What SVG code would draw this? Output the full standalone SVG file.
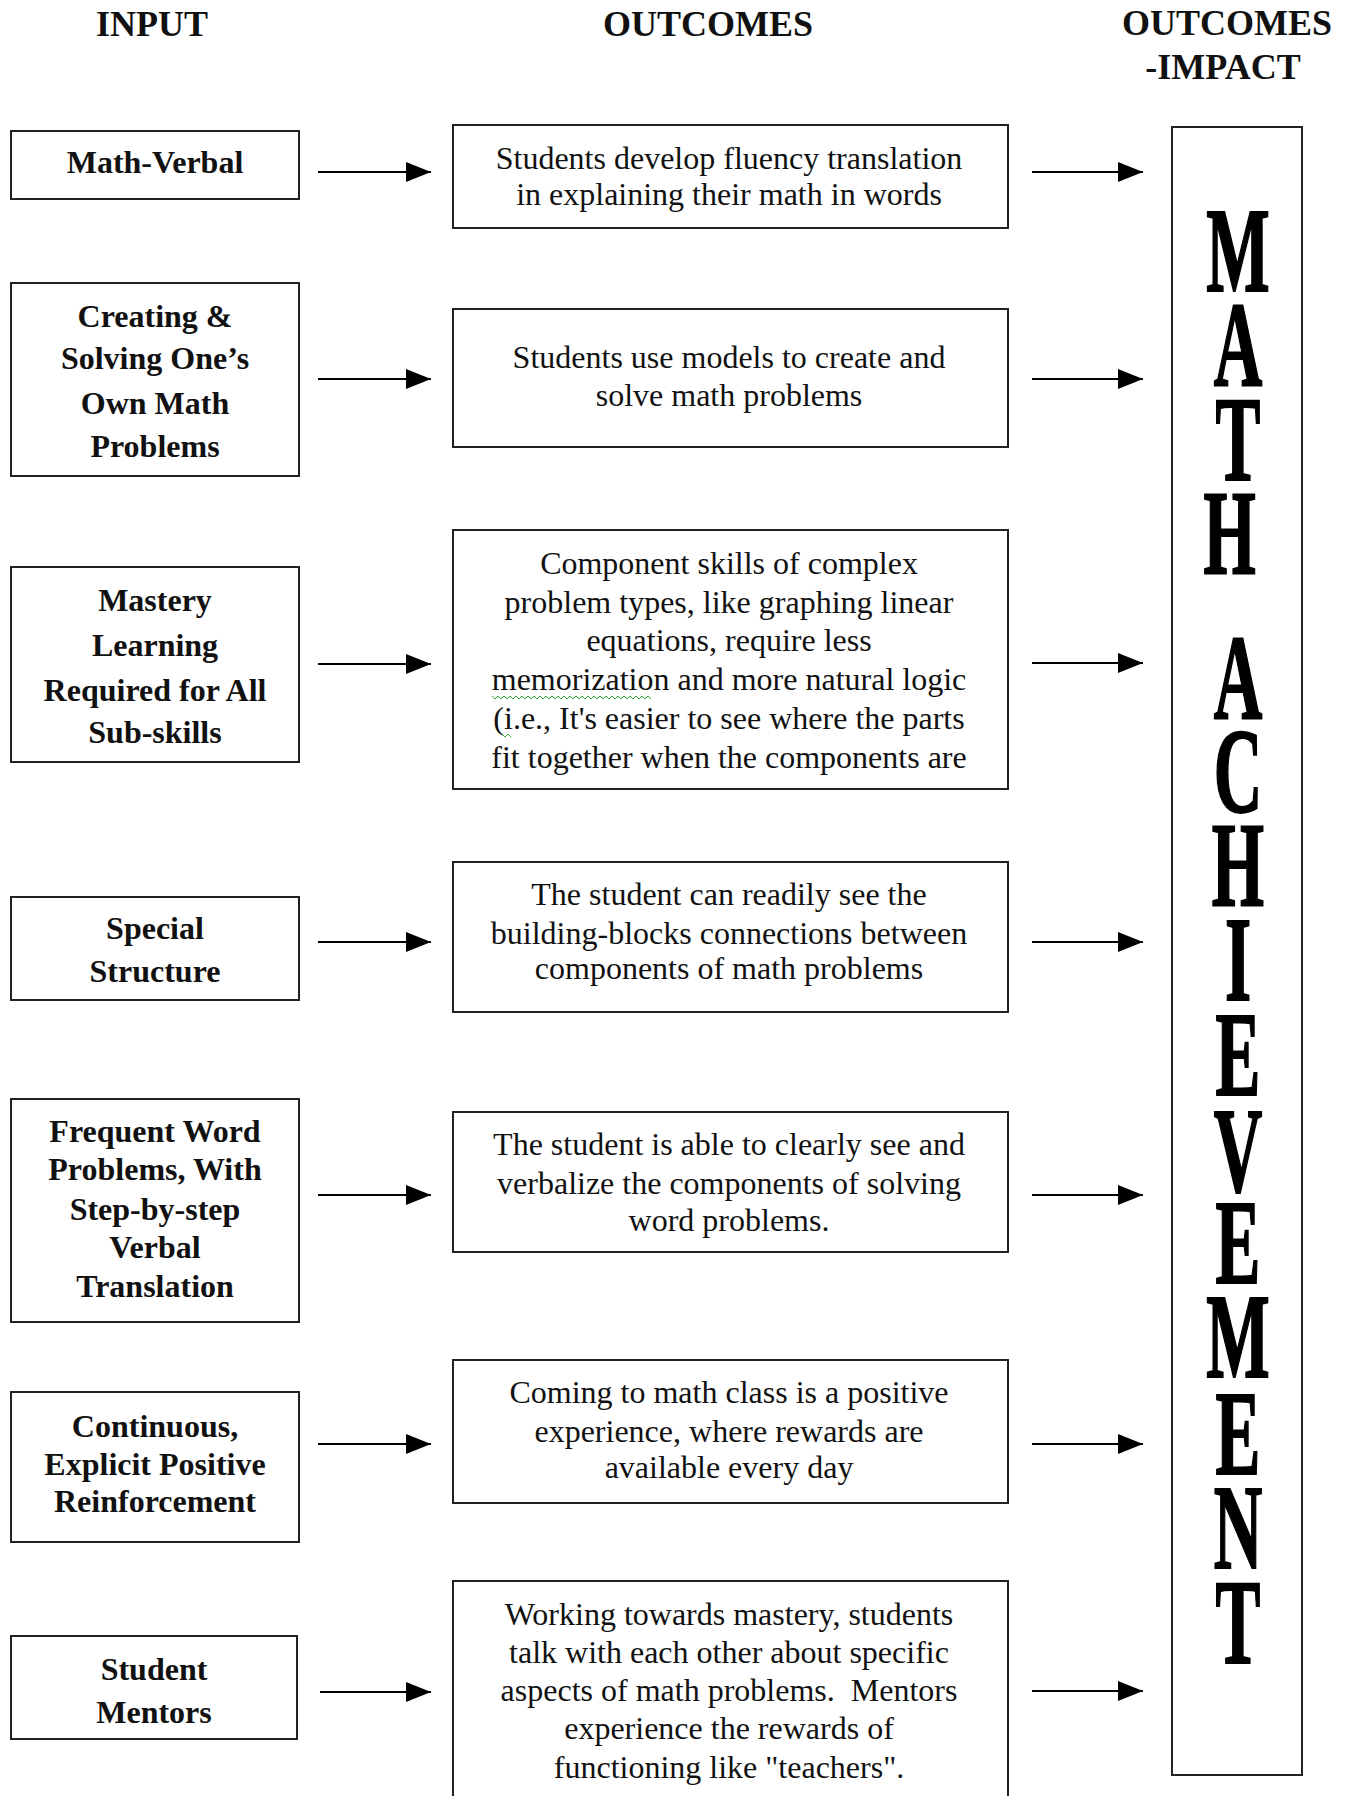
<svg xmlns="http://www.w3.org/2000/svg" width="1348" height="1796" viewBox="0 0 1348 1796">
<defs>
<marker id="ah" viewBox="0 0 25 20" markerWidth="25" markerHeight="20" refX="25" refY="10" orient="auto" markerUnits="userSpaceOnUse">
<path d="M0,0 L25,10 L0,20 z" fill="#000"/>
</marker>
</defs>
<style>
.box{fill:#fff;stroke:#222;stroke-width:2}
.hd{font-family:"Liberation Serif","Times New Roman",serif;font-weight:bold;font-size:36px;fill:#111;text-anchor:middle}
.in{font-family:"Liberation Serif","Times New Roman",serif;font-weight:bold;font-size:32px;fill:#111;text-anchor:middle}
.out{font-family:"Liberation Serif","Times New Roman",serif;font-size:32px;fill:#111;text-anchor:middle}
.big{font-family:"Liberation Serif","Times New Roman",serif;font-weight:bold;font-size:120px;fill:#000;stroke:#000;stroke-width:2;text-anchor:middle}
.arr{stroke:#000;stroke-width:2;fill:none}
.sq{stroke:#3a3;stroke-width:1;fill:none}
</style>
<rect width="1348" height="1796" fill="#fff"/>

<g id="headings">
<text class="hd" x="152" y="36">INPUT</text>
<text class="hd" x="708" y="36">OUTCOMES</text>
<text class="hd" x="1227" y="35">OUTCOMES</text>
<text class="hd" x="1223" y="79">-IMPACT</text>
</g>

<g id="in1"><rect class="box" x="11" y="131" width="288" height="68"/>
<text class="in" x="155" y="173">Math-Verbal</text></g>
<g id="in2"><rect class="box" x="11" y="283" width="288" height="193"/>
<text class="in"><tspan x="155" y="327">Creating &amp;</tspan><tspan x="155" y="369">Solving One’s</tspan><tspan x="155" y="414">Own Math</tspan><tspan x="155" y="457">Problems</tspan></text></g>
<g id="in3"><rect class="box" x="11" y="567" width="288" height="195"/>
<text class="in"><tspan x="155" y="611">Mastery</tspan><tspan x="155" y="656">Learning</tspan><tspan x="155" y="701">Required for All</tspan><tspan x="155" y="743">Sub-skills</tspan></text></g>
<g id="in4"><rect class="box" x="11" y="897" width="288" height="103"/>
<text class="in"><tspan x="155" y="939">Special</tspan><tspan x="155" y="982">Structure</tspan></text></g>
<g id="in5"><rect class="box" x="11" y="1099" width="288" height="223"/>
<text class="in"><tspan x="155" y="1142">Frequent Word</tspan><tspan x="155" y="1180">Problems, With</tspan><tspan x="155" y="1220">Step-by-step</tspan><tspan x="155" y="1258">Verbal</tspan><tspan x="155" y="1297">Translation</tspan></text></g>
<g id="in6"><rect class="box" x="11" y="1392" width="288" height="150"/>
<text class="in"><tspan x="155" y="1437">Continuous,</tspan><tspan x="155" y="1475">Explicit Positive</tspan><tspan x="155" y="1512">Reinforcement</tspan></text></g>
<g id="in7"><rect class="box" x="11" y="1636" width="286" height="103"/>
<text class="in"><tspan x="154" y="1680">Student</tspan><tspan x="154" y="1723">Mentors</tspan></text></g>

<g id="out1"><rect class="box" x="453" y="125" width="555" height="103"/>
<text class="out"><tspan x="729" y="169">Students develop fluency translation</tspan><tspan x="729" y="205">in explaining their math in words</tspan></text></g>
<g id="out2"><rect class="box" x="453" y="309" width="555" height="138"/>
<text class="out"><tspan x="729" y="368">Students use models to create and</tspan><tspan x="729" y="406">solve math problems</tspan></text></g>
<g id="out3"><rect class="box" x="453" y="530" width="555" height="259"/>
<text class="out"><tspan x="729" y="574">Component skills of complex</tspan><tspan x="729" y="613">problem types, like graphing linear</tspan><tspan x="729" y="651">equations, require less</tspan><tspan x="729" y="690">memorization and more natural logic</tspan><tspan x="729" y="729">(i.e., It's easier to see where the parts</tspan><tspan x="729" y="768">fit together when the components are</tspan></text>
<path class="sq" d="M492,696 l3,3 l3,-3 l3,3 l3,-3 l3,3 l3,-3 l3,3 l3,-3 l3,3 l3,-3 l3,3 l3,-3 l3,3 l3,-3 l3,3 l3,-3 l3,3 l3,-3 l3,3 l3,-3 l3,3 l3,-3 l3,3 l3,-3 l3,3 l3,-3 l3,3 l3,-3 l3,3 l3,-3 l3,3 l3,-3 l3,3 l3,-3 l3,3 l3,-3 l3,3 l3,-3 l3,3 l3,-3 l3,3 l3,-3 l3,3 l3,-3 l3,3 l3,-3 l3,3 l3,-3 l3,3 l3,-3 l3,3 l3,-3 l3,3"/>
<path class="sq" d="M502,734 l3,3 l3,-3 l3,3"/></g>
<g id="out4"><rect class="box" x="453" y="862" width="555" height="150"/>
<text class="out"><tspan x="729" y="905">The student can readily see the</tspan><tspan x="729" y="944">building-blocks connections between</tspan><tspan x="729" y="979">components of math problems</tspan></text></g>
<g id="out5"><rect class="box" x="453" y="1112" width="555" height="140"/>
<text class="out"><tspan x="729" y="1155">The student is able to clearly see and</tspan><tspan x="729" y="1194">verbalize the components of solving</tspan><tspan x="729" y="1231">word problems.</tspan></text></g>
<g id="out6"><rect class="box" x="453" y="1360" width="555" height="143"/>
<text class="out"><tspan x="729" y="1403">Coming to math class is a positive</tspan><tspan x="729" y="1442">experience, where rewards are</tspan><tspan x="729" y="1478">available every day</tspan></text></g>
<g id="out7"><rect class="box" x="453" y="1581" width="555" height="240"/>
<text class="out" xml:space="preserve"><tspan x="729" y="1625">Working towards mastery, students</tspan><tspan x="729" y="1663">talk with each other about specific</tspan><tspan x="729" y="1701">aspects of math problems.  Mentors</tspan><tspan x="729" y="1739">experience the rewards of</tspan><tspan x="729" y="1778">functioning like "teachers".</tspan></text></g>

<g id="impact"><rect class="box" x="1172" y="127" width="130" height="1648"/>
<text class="big" transform="translate(1238,0) scale(0.56,1)">
<tspan x="0" y="291">M</tspan><tspan x="0" y="385">A</tspan><tspan x="0" y="480">T</tspan><tspan x="0" y="574">H</tspan>
<tspan x="0" y="718">A</tspan><tspan x="0" y="812">C</tspan><tspan x="0" y="906">H</tspan><tspan x="0" y="1000">I</tspan><tspan x="0" y="1095">E</tspan><tspan x="0" y="1191">V</tspan><tspan x="0" y="1283">E</tspan><tspan x="0" y="1377">M</tspan><tspan x="0" y="1474">E</tspan><tspan x="0" y="1568">N</tspan><tspan x="0" y="1663">T</tspan>
</text></g>

<g id="connectors">
<line class="arr" x1="318" y1="172" x2="431" y2="172" marker-end="url(#ah)"/>
<line class="arr" x1="318" y1="379" x2="431" y2="379" marker-end="url(#ah)"/>
<line class="arr" x1="318" y1="664" x2="431" y2="664" marker-end="url(#ah)"/>
<line class="arr" x1="318" y1="942" x2="431" y2="942" marker-end="url(#ah)"/>
<line class="arr" x1="318" y1="1195" x2="431" y2="1195" marker-end="url(#ah)"/>
<line class="arr" x1="318" y1="1444" x2="431" y2="1444" marker-end="url(#ah)"/>
<line class="arr" x1="320" y1="1692" x2="431" y2="1692" marker-end="url(#ah)"/>
<line class="arr" x1="1032" y1="172" x2="1143" y2="172" marker-end="url(#ah)"/>
<line class="arr" x1="1032" y1="379" x2="1143" y2="379" marker-end="url(#ah)"/>
<line class="arr" x1="1032" y1="663" x2="1143" y2="663" marker-end="url(#ah)"/>
<line class="arr" x1="1032" y1="942" x2="1143" y2="942" marker-end="url(#ah)"/>
<line class="arr" x1="1032" y1="1195" x2="1143" y2="1195" marker-end="url(#ah)"/>
<line class="arr" x1="1032" y1="1444" x2="1143" y2="1444" marker-end="url(#ah)"/>
<line class="arr" x1="1032" y1="1691" x2="1143" y2="1691" marker-end="url(#ah)"/>
</g>
</svg>
